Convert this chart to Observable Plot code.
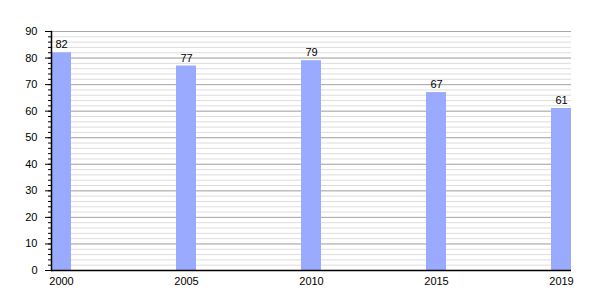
<!DOCTYPE html>
<html>
<head>
<meta charset="utf-8">
<script src="https://cdn.jsdelivr.net/npm/d3@7"></script>
<script src="https://cdn.jsdelivr.net/npm/@observablehq/plot@0.6"></script>
<style>
  html, body { margin: 0; padding: 0; background: #fff; }
  #chart svg { display: block; }
</style>
</head>
<body>
<div id="chart"></div>
<script>
const years = ["2000", "2005", "2010", "2015", "2019"];
const values = [82, 77, 79, 67, 61];
const majorTicks = [0, 10, 20, 30, 40, 50, 60, 70, 80, 90];
const minorTicks = d3.range(0, 91, 2);

const data = years.map((y, i) => ({year: y, value: values[i]}));

const chart = Plot.plot({
  width: 600,
  height: 300,
  marginTop: 31,
  marginBottom: 30,
  marginLeft: 51,
  marginRight: 29,
  style: {fontFamily: "'Liberation Sans', Arial, sans-serif", fontSize: "11px", color: "#000", background: "#fff"},
  x: {domain: years, paddingInner: 0.84, paddingOuter: 0, align: 0.5, label: null},
  y: {domain: [0, 90], label: null},
  marks: [
    Plot.ruleY(minorTicks, {stroke: "#dddddd", strokeWidth: 1}),
    Plot.ruleY(majorTicks, {stroke: "#aaaaaa", strokeWidth: 1}),
    Plot.barY(data, {x: "year", y: "value", fill: "#99aaff"}),
    Plot.text(data, {x: "year", y: "value", text: d => String(d.value), dy: -8, fill: "#000", fontSize: 11}),
    Plot.axisY({ticks: minorTicks, tickSize: 3, tickFormat: () => "", stroke: "#000"}),
    Plot.axisY({ticks: majorTicks, tickSize: 6, tickPadding: 8, stroke: "#000", fill: "#000", fontSize: 11}),
    Plot.axisX({tickSize: 0, tickPadding: 7, fill: "#000", fontSize: 11}),
    Plot.frame({anchor: "left", stroke: "#000", strokeWidth: 1.5}),
    Plot.ruleY([0], {stroke: "#000", strokeWidth: 1.5})
  ]
});
document.getElementById("chart").appendChild(chart);
</script>
</body>
</html>
